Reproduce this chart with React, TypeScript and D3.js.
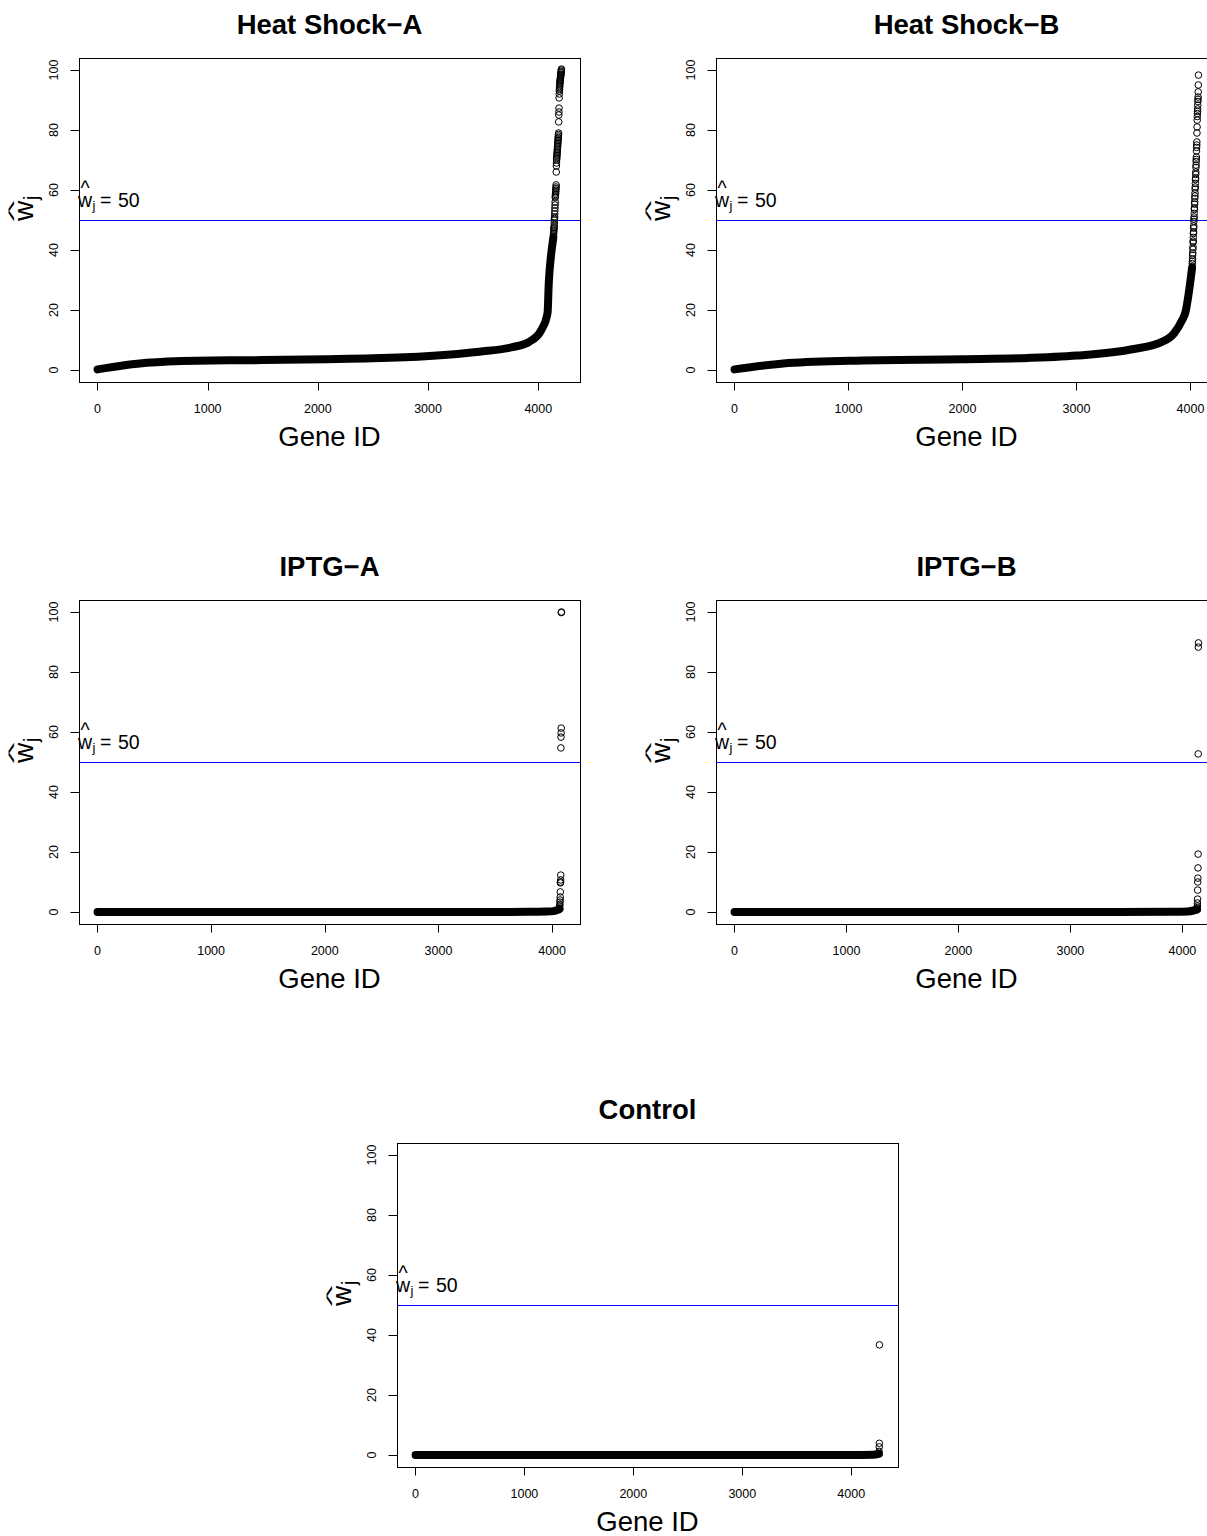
import React from 'react';
import * as d3 from 'd3';

// ---------- data ----------
const panelTitles = ['Heat Shock−A', 'Heat Shock−B', 'IPTG−A', 'IPTG−B', 'Control'];
const geneCounts = [4210, 4070, 4082, 4143, 4259];
const xTicks = [0, 1000, 2000, 3000, 4000];
const yTicks = [0, 20, 40, 60, 80, 100];
const threshold = 50;

// Heat Shock-A: dense (overlapping) part sampled along the curve, then the individual top points
const hsaCurveGene = [1, 445, 900, 1500, 2080, 2500, 3011, 3465, 3764, 3918, 4027, 4084, 4095, 4115, 4136];
const hsaCurveVal = [0.2, 2.4, 3.1, 3.3, 3.6, 3.9, 4.7, 6.1, 7.6, 9.4, 13.3, 19, 29, 38, 44];
const hsaTail = [44.5, 45, 45.5, 46, 46.5, 47, 47.5, 48, 49, 50, 50.5, 51, 52, 53, 54, 55, 56, 57.5, 58, 58.5, 59, 59.5, 60, 60.5, 61, 61.7, 66, 68, 69, 70, 70.5, 71, 71.5, 72, 72.5, 73, 73.5, 74, 74.5, 75, 75.5, 76, 76.5, 77, 77.5, 78, 78.5, 79, 82.7, 85, 86, 87.3, 90.7, 92, 93, 93.5, 94, 94.5, 95, 95.5, 96, 96.3, 96.7, 97, 97.3, 97.7, 98, 98.3, 98.6, 99, 99.3, 99.6, 100, 100.3];

// Heat Shock-B
const hsbCurveGene = [1, 428, 1012, 2009, 2500, 3005, 3503, 3735, 3855, 3928, 3957, 3990, 4014];
const hsbCurveVal = [0.2, 2.2, 3.1, 3.6, 3.9, 4.8, 7, 9.1, 12.2, 16.7, 19.4, 27, 34];
const hsbTail = [34.5, 35.5, 36.2, 37, 38.3, 39, 40.2, 41, 42.5, 43, 44.2, 45.5, 46, 47.3, 48, 49.5, 50.3, 51, 52.2, 53.5, 54, 55.3, 56, 57.2, 58, 59, 60.3, 61, 62.2, 63.5, 64, 65.2, 66, 67.5, 68.3, 69.5, 70.2, 71, 73, 74.2, 75, 76, 79, 81, 83.3, 84.5, 85.5, 86.2, 87, 88.3, 89.5, 90.2, 91, 92.7, 95, 98.3];

// IPTG-A
const iptgaCurveGene = [1, 1000, 2000, 3000, 3800, 3950, 4010, 4040, 4065];
const iptgaCurveVal = [0, 0, 0, 0, 0.05, 0.15, 0.3, 0.6, 1.0];
const iptgaTail = [1.3, 2, 2.5, 3.3, 4, 5, 6.7, 9.7, 10, 10.7, 12.3, 54.7, 58.3, 59.7, 61.3, 99.8, 100];

// IPTG-B
const iptgbCurveGene = [1, 1000, 2000, 3000, 3900, 4050, 4100, 4130];
const iptgbCurveVal = [0, 0, 0, 0, 0.05, 0.2, 0.5, 0.8];
const iptgbTail = [1, 1.5, 2, 3, 4.3, 7.3, 10, 11.3, 14.7, 19.3, 52.7, 88.3, 89.7];

// Control
const ctrlCurveGene = [1, 1000, 2000, 3000, 4000, 4200, 4254];
const ctrlCurveVal = [0, 0, 0, 0, 0, 0.1, 0.4];
const ctrlTail = [1.2, 2.7, 3.9, 36.7];

const curveGenes = [hsaCurveGene, hsbCurveGene, iptgaCurveGene, iptgbCurveGene, ctrlCurveGene];
const curveVals = [hsaCurveVal, hsbCurveVal, iptgaCurveVal, iptgbCurveVal, ctrlCurveVal];
const tails = [hsaTail, hsbTail, iptgaTail, iptgbTail, ctrlTail];

// ---------- layout ----------
const W = 1207;
const H = 1536;
const BOX_W = 501;
const BOX_H = 324;
const panelPos = [
  { left: 79, top: 58 },
  { left: 716, top: 58 },
  { left: 79, top: 600 },
  { left: 716, top: 600 },
  { left: 397, top: 1143 },
];
const FONT = 'Liberation Sans, Arial, Helvetica, sans-serif';

function Panel({ idx }: { idx: number }) {
  const { left, top } = panelPos[idx];
  const n = geneCounts[idx];
  const pad = 0.04 * (n - 1);
  const x = d3.scaleLinear().domain([1 - pad, n + pad]).range([left, left + BOX_W]);
  const y = d3.scaleLinear().domain([-4, 104]).range([top + BOX_H, top]);
  const bottom = top + BOX_H;
  const right = left + BOX_W;

  const gs = curveGenes[idx];
  const vs = curveVals[idx];
  const line = d3
    .line<[number, number]>()
    .x((d) => x(d[0]))
    .y((d) => y(d[1]))
    .curve(d3.curveMonotoneX);
  const pathD = line(gs.map((g, i) => [g, vs[i]] as [number, number])) || '';

  const tail = tails[idx];
  const tailStart = n - tail.length + 1;

  const yLabCx = left - 46;
  const yLabCy = (top + bottom) / 2 - 9;
  const annY = y(threshold) - 13.5;

  return (
    <g>
      {/* title */}
      <text
        x={(left + right) / 2}
        y={top - 24.5}
        textAnchor="middle"
        fontSize={27.5}
        fontWeight="bold"
        fontFamily={FONT}
      >
        {panelTitles[idx]}
      </text>

      {/* box */}
      <rect x={left + 0.5} y={top + 0.5} width={BOX_W} height={BOX_H} fill="none" stroke="#000" strokeWidth={1} />

      {/* x axis */}
      <line x1={x(xTicks[0])} x2={x(xTicks[xTicks.length - 1])} y1={bottom + 0.5} y2={bottom + 0.5} stroke="#000" />
      {xTicks.map((t) => (
        <g key={'x' + t}>
          <line x1={Math.round(x(t)) + 0.5} x2={Math.round(x(t)) + 0.5} y1={bottom} y2={bottom + 8.5} stroke="#000" />
          <text x={x(t)} y={bottom + 30.5} textAnchor="middle" fontSize={12.5} fontFamily={FONT}>
            {t}
          </text>
        </g>
      ))}
      <text x={(left + right) / 2} y={bottom + 64} textAnchor="middle" fontSize={27.5} fontFamily={FONT}>
        Gene ID
      </text>

      {/* y axis */}
      <line x1={left + 0.5} x2={left + 0.5} y1={y(yTicks[0])} y2={y(yTicks[yTicks.length - 1])} stroke="#000" />
      {yTicks.map((t) => (
        <g key={'y' + t}>
          <line x1={left - 8.5} x2={left} y1={Math.round(y(t)) + 0.5} y2={Math.round(y(t)) + 0.5} stroke="#000" />
          <text
            transform={`translate(${left - 21},${y(t)}) rotate(-90)`}
            textAnchor="middle"
            fontSize={12.5}
            fontFamily={FONT}
          >
            {t}
          </text>
        </g>
      ))}
      {/* y label: w-hat sub j */}
      <g transform={`translate(${yLabCx},${yLabCy}) rotate(-90)`} fontFamily={FONT}>
        <text x={0} y={0} textAnchor="middle" fontSize={28}>
          w
        </text>
        <text transform="translate(0,-14.5) scale(1.6,0.55)" textAnchor="middle" fontSize={28}>
          ^
        </text>
        <text x={11} y={5} fontSize={19.5}>
          j
        </text>
      </g>

      {/* threshold line */}
      <line x1={left} x2={right} y1={Math.round(y(threshold)) + 0.5} y2={Math.round(y(threshold)) + 0.5} stroke="#0000ff" strokeWidth={1} />
      {/* annotation */}
      <g fontFamily={FONT}>
        <text x={left - 1} y={annY} fontSize={19.5}>
          w
        </text>
        <text x={left + 6} y={annY - 11.5} textAnchor="middle" fontSize={19.5}>
          ^
        </text>
        <text x={left + 13.5} y={annY + 3.5} fontSize={13}>
          j
        </text>
        <text x={left + 21} y={annY} fontSize={19.5}>
          =
        </text>
        <text x={left + 39} y={annY} fontSize={19.5}>
          50
        </text>
      </g>

      {/* dense overlapping points */}
      <path d={pathD} fill="none" stroke="#000" strokeWidth={8} strokeLinecap="round" strokeLinejoin="round" />
      {/* individual points */}
      {tail.map((v, i) => (
        <circle key={i} cx={x(tailStart + i)} cy={y(v)} r={3.3} fill="none" stroke="#000" strokeWidth={1} />
      ))}
    </g>
  );
}

export default function App() {
  return (
    <svg
      width={W}
      height={H}
      viewBox={`0 0 ${W} ${H}`}
      style={{ position: 'absolute', left: 0, top: 0, background: '#fff' }}
    >
      <rect x={0} y={0} width={W} height={H} fill="#fff" />
      {panelTitles.map((_, i) => (
        <Panel key={i} idx={i} />
      ))}
    </svg>
  );
}
